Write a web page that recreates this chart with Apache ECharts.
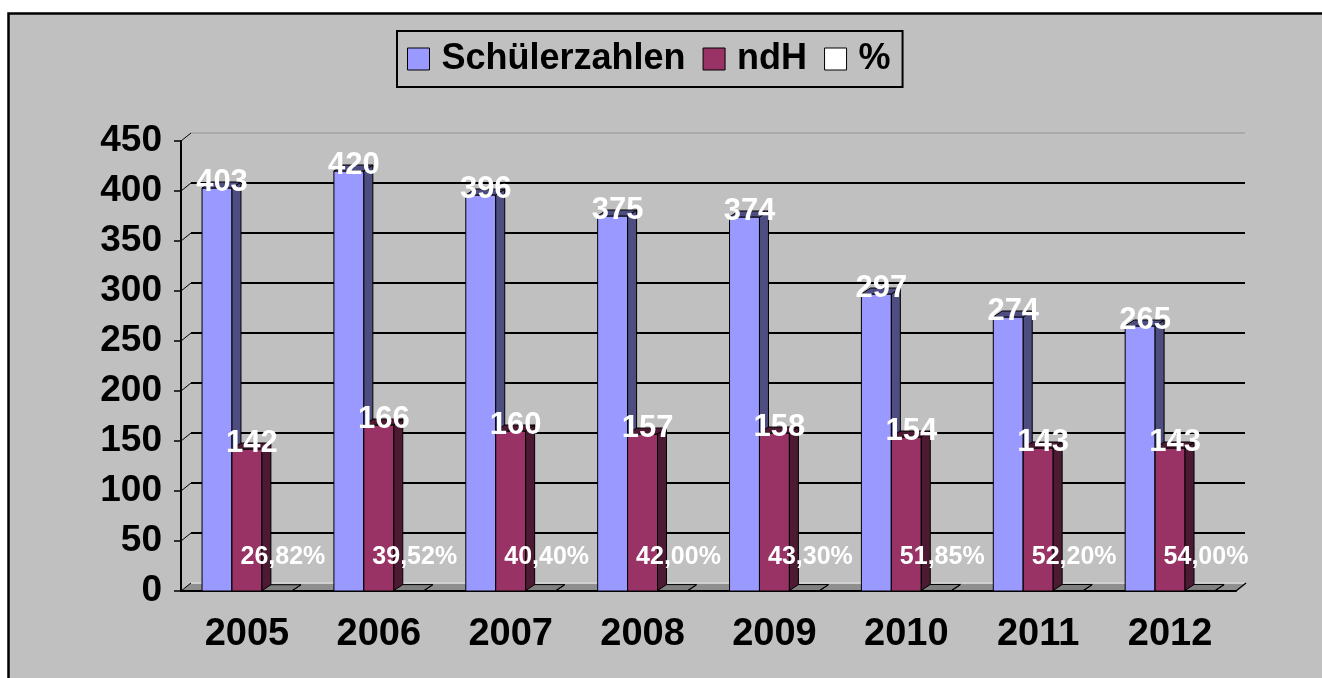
<!DOCTYPE html>
<html>
<head>
  <meta charset="utf-8">
  <title>Schülerzahlen / ndH</title>
  <script src="https://cdn.jsdelivr.net/npm/echarts@6/dist/echarts.min.js"></script>
  <style>
    html, body { margin: 0; padding: 0; background: #fff; }
    #chart { width: 1322px; height: 678px; }
  </style>
</head>
<body>
<div id="chart"></div>
<script type="text/javascript">
// Daten
var years = ['2005', '2006', '2007', '2008', '2009', '2010', '2011', '2012'];
var schueler = [403, 420, 396, 375, 374, 297, 274, 265];
var ndh = [142, 166, 160, 157, 158, 154, 143, 143];
var prozent = [26.82, 39.52, 40.40, 42.00, 43.30, 51.85, 52.20, 54.00];
var seriesNames = ['Schülerzahlen', 'ndH', '%'];

var FONT = 'Liberation Sans, Arial, sans-serif';
var DX = 9, DY = -6;          // Tiefe der Säulen
var BAR_RATIO = 0.227;        // Säulenbreite / Kategoriebreite

var myChart = echarts.init(document.getElementById('chart'));

// 3D-Säule als custom series
function bar3d(k, front, side, top, fmt, labelSize, labelPos) {
  return function (params, api) {
    var cat = api.value(0), val = api.value(1);
    var base = api.coord([cat, 0]);
    var head = api.coord([cat, val]);
    var w = api.size([1, 0])[0] * BAR_RATIO;
    var x0 = base[0] + (k - 1.5) * w;
    var x1 = x0 + w;
    var yb = base[1], yt = head[1];
    var edge = { stroke: '#000', lineWidth: 1 };
    var lp = labelPos(x0 + w / 2, yt, yb);
    return {
      type: 'group',
      children: [
        { type: 'rect', shape: { x: x0, y: yt, width: w, height: yb - yt },
          style: Object.assign({ fill: front }, edge) },
        { type: 'polygon', shape: { points: [[x1, yt], [x1 + DX, yt + DY], [x1 + DX, yb + DY], [x1, yb]] },
          style: Object.assign({ fill: side }, edge) },
        { type: 'polygon', shape: { points: [[x0, yt], [x0 + DX, yt + DY], [x1 + DX, yt + DY], [x1, yt]] },
          style: Object.assign({ fill: top }, edge) },
        { type: 'text', z2: 100, x: lp[0], y: lp[1],
          style: { text: fmt(api), fill: '#fff', font: 'bold ' + labelSize + 'px ' + FONT,
                   align: 'center', verticalAlign: 'middle' } }
      ]
    };
  };
}

function valueLabel(cx, yt, yb) { return [cx + 5, yt - 6]; }
function pctLabel(cx, yt, yb) { return [cx + 6, yb - 34]; }

var option = {
  backgroundColor: 'transparent',
  textStyle: { fontFamily: FONT },
  animation: false,
  legend: {
    left: 397, top: 31,
    padding: [10, 12, 10, 10],
    itemGap: 17,
    itemWidth: 22, itemHeight: 22,
    icon: 'rect',
    borderColor: '#000', borderWidth: 2,
    itemStyle: { borderColor: '#000', borderWidth: 1 },
    textStyle: { fontSize: 36, fontWeight: 'bold', color: '#000', padding: [0, 0, 0, 7] },
    data: seriesNames
  },
  grid: [
    { left: 181, right: 86, top: 141, bottom: 87 },
    { left: 191, right: 77, top: 133, bottom: 95 }
  ],
  xAxis: [
    { type: 'category', gridIndex: 0, data: years,
      axisLine: { lineStyle: { color: '#000', width: 2 } },
      axisTick: { length: 9, lineStyle: { color: '#000', width: 1.5 } },
      axisLabel: { color: '#000', fontSize: 38, fontWeight: 'bold', margin: 25 } },
    { type: 'category', gridIndex: 1, data: years, show: false }
  ],
  yAxis: [
    { type: 'value', gridIndex: 0, min: 0, max: 450, interval: 50,
      axisLine: { show: true, lineStyle: { color: '#000', width: 2 } },
      axisTick: { show: true, length: 7, lineStyle: { color: '#000', width: 1.5 } },
      axisLabel: { color: '#000', fontSize: 37, fontWeight: 'bold', margin: 19, padding: [4, 0, 0, 0] },
      splitLine: { show: false } },
    { type: 'value', gridIndex: 1, min: 0, max: 450, interval: 50,
      axisLine: { show: false }, axisTick: { show: false }, axisLabel: { show: false },
      splitLine: { show: true, lineStyle: { width: 2,
        color: ['#d0d0d0', '#000', '#000', '#000', '#000', '#000', '#000', '#000', '#000', '#aaaaaa'] } } }
  ],
  series: [
    { type: 'custom', name: seriesNames[0], xAxisIndex: 0, yAxisIndex: 0,
      itemStyle: { color: '#9999FF' }, encode: { x: 0, y: 1 },
      renderItem: bar3d(0, '#9999FF', '#4D4D80', '#4D4D80',
        function (api) { return String(api.value(1)); }, 31, valueLabel),
      data: schueler.map(function (v, i) { return [i, v]; }) },
    { type: 'custom', name: seriesNames[1], xAxisIndex: 0, yAxisIndex: 0,
      itemStyle: { color: '#993366' }, encode: { x: 0, y: 1 },
      renderItem: bar3d(1, '#993366', '#4D1A33', '#4D1A33',
        function (api) { return String(api.value(1)); }, 31, valueLabel),
      data: ndh.map(function (v, i) { return [i, v]; }) },
    { type: 'custom', name: seriesNames[2], xAxisIndex: 0, yAxisIndex: 0,
      itemStyle: { color: '#FFFFFF' }, encode: { x: 0, y: 1 },
      renderItem: bar3d(2, '#FFFFFF', '#808080', '#808080',
        function (api) { return api.value(2).toFixed(2).replace('.', ',') + '%'; }, 25, pctLabel),
      data: prozent.map(function (v, i) { return [i, v / 100, v]; }) }
  ]
};

myChart.setOption(option);

// Rahmen, Boden und schräge Verbindungen zur Rückwand
var xLeft = 181, xRight = 1236;
var yFloor = myChart.convertToPixel({ yAxisIndex: 0 }, 0);
var graphics = [
  { type: 'rect', z: -100, shape: { x: 8.5, y: 13.5, width: 1400, height: 800 },
    style: { fill: '#C0C0C0', stroke: '#000', lineWidth: 2.5 } },
  { type: 'polygon', z: -50,
    shape: { points: [[xLeft, yFloor], [xRight, yFloor], [xRight + 10, yFloor - 8], [xLeft + 10, yFloor - 8]] },
    style: { fill: '#8f8f8f', stroke: null } },
  { type: 'line', z: 5, shape: { x1: xRight, y1: yFloor, x2: xRight + 10, y2: yFloor - 8 },
    style: { stroke: '#000', lineWidth: 1.5 } }
];
for (var v = 0; v <= 450; v += 50) {
  var yy = myChart.convertToPixel({ yAxisIndex: 0 }, v);
  graphics.push({ type: 'line', z: 5, shape: { x1: xLeft, y1: yy, x2: xLeft + 10, y2: yy - 8 },
    style: { stroke: '#000', lineWidth: 1 } });
}
myChart.setOption({ graphic: graphics });
</script>
</body>
</html>
